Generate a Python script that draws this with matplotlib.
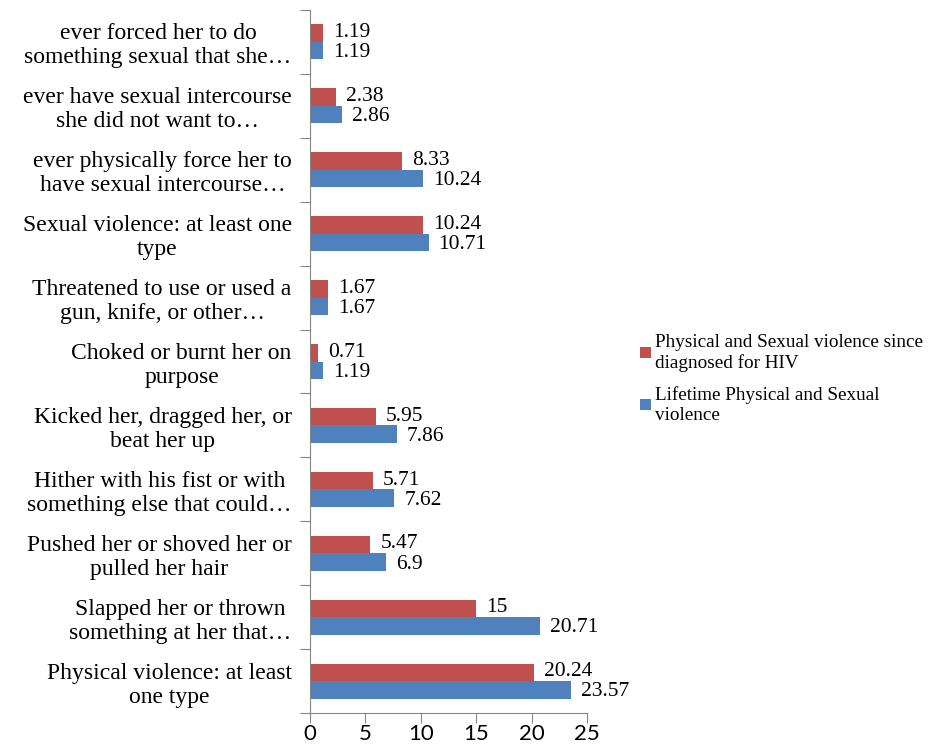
import matplotlib
matplotlib.use("Agg")
import matplotlib.pyplot as plt
import numpy as np

categories = [
    "ever forced her to do\nsomething sexual that she\u2026",
    "ever have sexual intercourse\nshe did not want to\u2026",
    "ever physically force her to\nhave sexual intercourse\u2026",
    "Sexual violence: at least one\ntype",
    "Threatened to use or used a\ngun, knife, or other\u2026",
    "Choked or burnt her on\npurpose",
    "Kicked her, dragged her, or\nbeat her up",
    "Hither with his fist or with\nsomething else that could\u2026",
    "Pushed her or shoved her or\npulled her hair",
    "Slapped her or thrown\nsomething at her that\u2026",
    "Physical violence: at least\none type",
]
since_hiv = [1.19, 2.38, 8.33, 10.24, 1.67, 0.71, 5.95, 5.71, 5.47, 15, 20.24]
lifetime = [1.19, 2.86, 10.24, 10.71, 1.67, 1.19, 7.86, 7.62, 6.9, 20.71, 23.57]
since_labels = ["1.19", "2.38", "8.33", "10.24", "1.67", "0.71", "5.95", "5.71", "5.47", "15", "20.24"]
life_labels = ["1.19", "2.86", "10.24", "10.71", "1.67", "1.19", "7.86", "7.62", "6.9", "20.71", "23.57"]
series_names = ["Physical and Sexual violence since\ndiagnosed for HIV",
                "Lifetime Physical and Sexual\nviolence"]
xticks = [0, 5, 10, 15, 20, 25]

RED = "#C0504D"
BLUE = "#4F81BD"
GRAY = "#868686"
SERIF = "Liberation Serif"

fig = plt.figure(figsize=(9.33, 7.5), dpi=100)
ax = fig.add_axes([0.332, 0.049, 0.2975, 0.938])

n = len(categories)
y = np.arange(n)[::-1]  # first category at top
h = 0.273
b1 = ax.barh(y + h / 2, since_hiv, height=h, color=RED, label=series_names[0])
b2 = ax.barh(y - h / 2, lifetime, height=h, color=BLUE, label=series_names[1])

for yy, v, lab in zip(y, since_hiv, since_labels):
    ax.text(v + 0.9, yy + h / 2 + 0.01, lab, va="center", ha="left", fontsize=15.5, family=SERIF)
for yy, v, lab in zip(y, lifetime, life_labels):
    ax.text(v + 0.9, yy - h / 2 - 0.03, lab, va="center", ha="left", fontsize=15.5, family=SERIF)

ax.set_xlim(0, 25)
ax.set_ylim(-0.5, n - 0.5)
ax.set_xticks(xticks)
ax.set_xticklabels([str(t) for t in xticks], fontsize=16, family="Lato")
ax.tick_params(axis="x", length=7, color=GRAY, pad=1)

ax.set_yticks(np.arange(n + 1) - 0.5)
ax.set_yticklabels([])
ax.tick_params(axis="y", which="major", length=7, color=GRAY)
ax.set_yticks(y, minor=True)
ax.set_yticklabels(categories, minor=True, fontsize=17, family=SERIF, multialignment="center")
ax.tick_params(axis="y", which="minor", length=0, pad=13)

for s in ["top", "right"]:
    ax.spines[s].set_visible(False)
for s in ["left", "bottom"]:
    ax.spines[s].set_color(GRAY)

fig.legend(handles=[b1, b2], loc="center left", bbox_to_anchor=(0.686, 0.495),
           frameon=False, prop={"family": SERIF, "size": 13.8},
           handlelength=0.55, handleheight=0.55, handletextpad=0.25, labelspacing=0.75,
           borderaxespad=0, borderpad=0)

fig.savefig("out.png", dpi=100)
